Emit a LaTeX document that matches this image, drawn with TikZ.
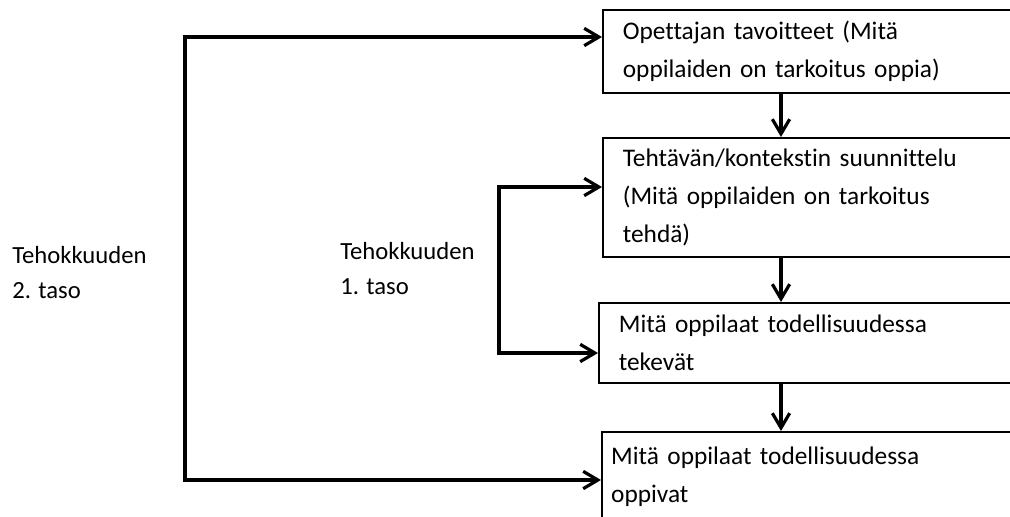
\documentclass[tikz,border=0pt]{standalone}
\usepackage{fontspec}
\setmainfont{Carlito}[Ligatures=NoCommon]
\usetikzlibrary{arrows.meta}

\begin{document}
\begin{tikzpicture}[x=0.75pt, y=-0.75pt,
    box/.style={draw, line width=1.3pt, anchor=north west, align=left,
      text width=370pt, inner xsep=15pt,
      font=\fontsize{19}{28.5}\selectfont},
    link/.style={line width=2.4pt,
      {Straight Barb[length=11pt,width=13pt]}-{Straight Barb[length=11pt,width=13pt]}},
    down/.style={line width=2.4pt, -{Straight Barb[length=11pt,width=13pt]}},
    level/.style={anchor=north west, align=left, inner sep=0pt,
      font=\fontsize{18.5}{26.25}\selectfont}]
  \useasboundingbox (0,0) rectangle (1010,517);
  \clip (0,0) rectangle (1010,517);

  % boxes
  \node[box, minimum height=62.25pt] (tavoitteet) at (602,9)
    {Opettajan tavoitteet (Mitä\\oppilaiden on tarkoitus oppia)};
  \node[box, minimum height=89.25pt] (suunnittelu) at (602,137)
    {Tehtävän/kontekstin suunnittelu\\(Mitä oppilaiden on tarkoitus\\tehdä)};
  \node[box, minimum height=60pt] (tekevat) at (598,302)
    {Mitä oppilaat todellisuudessa\\tekevät};
  \node[box, minimum height=67.5pt, inner xsep=7pt, text width=386pt] (oppivat) at (601,431)
    {Mitä oppilaat todellisuudessa\\oppivat};

  % labels
  \node[level] (taso2) at (12,246) {Tehokkuuden\\2. taso};
  \node[level] (taso1) at (340,242) {Tehokkuuden\\1. taso};

  % brackets
  \coordinate (ulko1) at (185,37);
  \coordinate (ulko2) at (185,480);
  \coordinate (sisa1) at (499,187);
  \coordinate (sisa2) at (499,353);
  \draw[link] (ulko1 -| tavoitteet.west) -- (ulko1) -- (ulko2) -- (ulko2 -| oppivat.west);
  \draw[link] (sisa1 -| suunnittelu.west) -- (sisa1) -- (sisa2) -- (sisa2 -| tekevat.west);

  % down arrows
  \coordinate (keski) at (781,0);
  \draw[down] (tavoitteet.south -| keski) -- (suunnittelu.north -| keski);
  \draw[down] (suunnittelu.south -| keski) -- (tekevat.north -| keski);
  \draw[down] (tekevat.south -| keski) -- (oppivat.north -| keski);
\end{tikzpicture}
\end{document}
